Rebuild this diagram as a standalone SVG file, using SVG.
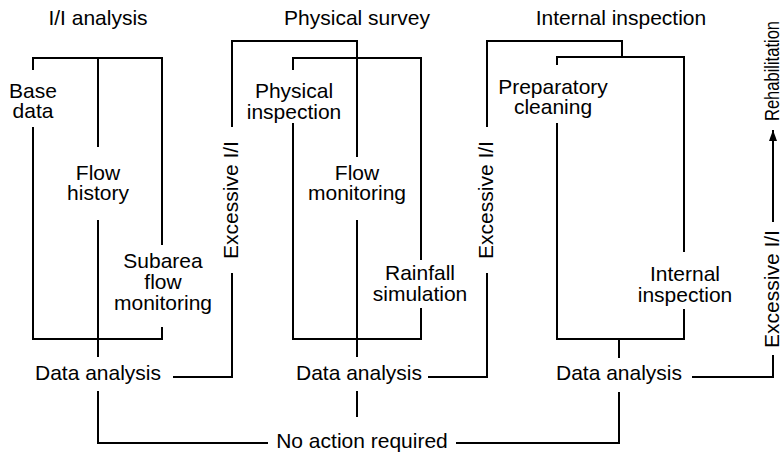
<svg xmlns="http://www.w3.org/2000/svg" width="783" height="452" viewBox="0 0 783 452">
<style>
text{font-family:"Liberation Sans",Arial,Helvetica,sans-serif;font-size:21px;fill:#000;text-anchor:middle}
.ln{fill:none;stroke:#000;stroke-width:2;stroke-linecap:butt;stroke-linejoin:miter}
</style>
<defs>
<marker id="ah" markerWidth="11" markerHeight="8" refX="11" refY="4" orient="auto" markerUnits="userSpaceOnUse" viewBox="0 0 11 8">
<path d="M0,0 L11,4 L0,8 Z" fill="#000"/>
</marker>
</defs>
<rect width="783" height="452" fill="#fff"/>
<g id="headers">
<text x="98" y="25">I/I analysis</text>
<text x="357" y="25">Physical survey</text>
<text x="621" y="25">Internal inspection</text>
</g>
<g id="connectors">
<path class="ln" d="M33,70 V58 H162 V245 M162,327 V339 H33 V127"/>
<path class="ln" d="M98,58 V147 M98,220 V357"/>
<path class="ln" d="M293,70 V58 H421 V260 M421,308 V339 H293 V123"/>
<path class="ln" d="M357,157 V41 H232 V127 M232,273 V377 H173"/>
<path class="ln" d="M357,220 V357"/>
<path class="ln" d="M557,65 V57 H684 V252 M684,309 V339 H557 V123"/>
<path class="ln" d="M622,57 V41 H487 V127 M487,273 V377 H428"/>
<path class="ln" d="M619,339 V358"/>
<path class="ln" d="M692,377 H773 V355"/>
<path class="ln" d="M773,222 V130" marker-end="url(#ah)"/>
<path class="ln" d="M98,391 V443 H268"/>
<path class="ln" d="M357,391 V417"/>
<path class="ln" d="M456,443 H619 V392"/>
</g>
<g id="n-base-data"><text x="33" y="98">Base</text><text x="33" y="118">data</text></g>
<g id="n-flow-history"><text x="98" y="180">Flow</text><text x="98" y="200">history</text></g>
<g id="n-subarea"><text x="163" y="268">Subarea</text><text x="163" y="289">flow</text><text x="163" y="310">monitoring</text></g>
<g id="n-data1"><text x="98" y="380">Data analysis</text></g>
<g id="n-excess1"><text transform="translate(238,200) rotate(-90)">Excessive I/I</text></g>
<g id="n-phys-insp"><text x="294" y="98">Physical</text><text x="294" y="119">inspection</text></g>
<g id="n-flow-mon"><text x="357" y="180">Flow</text><text x="357" y="200">monitoring</text></g>
<g id="n-rainfall"><text x="420" y="280">Rainfall</text><text x="420" y="301">simulation</text></g>
<g id="n-data2"><text x="359" y="380">Data analysis</text></g>
<g id="n-excess2"><text transform="translate(493,200) rotate(-90)">Excessive I/I</text></g>
<g id="n-prep"><text x="553" y="94">Preparatory</text><text x="553" y="114">cleaning</text></g>
<g id="n-internal"><text x="685" y="281">Internal</text><text x="685" y="302">inspection</text></g>
<g id="n-data3"><text x="619" y="380">Data analysis</text></g>
<g id="n-excess3"><text transform="translate(779,289) rotate(-90)">Excessive I/I</text></g>
<g id="n-rehab"><text transform="translate(779,71) rotate(-90)" style="font-size:20px" textLength="100" lengthAdjust="spacingAndGlyphs">Rehabilitation</text></g>
<g id="n-noaction"><text x="362" y="448">No action required</text></g>
</svg>
